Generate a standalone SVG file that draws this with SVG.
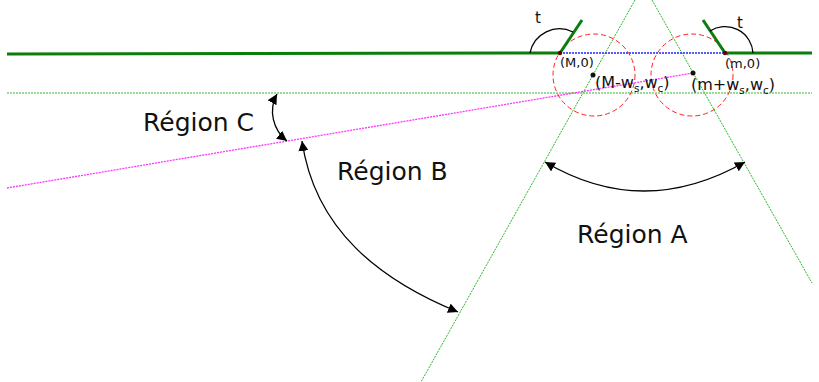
<svg xmlns="http://www.w3.org/2000/svg" width="819" height="382" viewBox="0 0 819 382">
<style>
.thick{stroke:#0a7d0a;stroke-width:3;fill:none}
.gdot{stroke:#2db92d;stroke-width:1;stroke-dasharray:2,1;fill:none}
.mag{stroke:#ff33ff;stroke-width:1.3;stroke-dasharray:2,1;fill:none}
.blue{stroke:#2222ff;stroke-width:1.5;stroke-dasharray:2,1;fill:none}
.circ{stroke:#ff2020;stroke-width:1;stroke-dasharray:5,3;fill:none}
.arc{stroke:#000;stroke-width:1.3;fill:none}
.arr{stroke:#000;stroke-width:1.3;fill:none;marker-start:url(#ah);marker-end:url(#ah)}
.lbl{font-family:"DejaVu Sans",sans-serif;font-size:25px;fill:#111}
.sm{font-family:"DejaVu Sans",sans-serif;font-size:13px;fill:#111}
.md{font-family:"DejaVu Sans",sans-serif;font-size:16px;fill:#111}
.tt{font-family:"DejaVu Sans",sans-serif;font-size:15px;fill:#111}
</style>
<defs>
<marker id="ah" viewBox="0 0 10 10" refX="10" refY="5" markerWidth="10" markerHeight="10" markerUnits="userSpaceOnUse" orient="auto-start-reverse">
<path d="M0,0 L10,5 L0,10 z" fill="#000"/>
</marker>
</defs>
<rect width="819" height="382" fill="#fff"/>
<g id="connectors">
<line class="gdot" x1="7" y1="93" x2="812" y2="93"/>
<line class="gdot" x1="635" y1="0" x2="421" y2="382"/>
<line class="gdot" x1="652" y1="0" x2="812" y2="283"/>
<line class="mag" x1="7" y1="188" x2="693" y2="73"/>
<line class="blue" x1="560" y1="53" x2="725" y2="53"/>
<circle class="circ" cx="594" cy="75" r="41"/>
<circle class="circ" cx="692" cy="75" r="41"/>
<line class="thick" x1="7" y1="54" x2="560" y2="53"/>
<line class="thick" x1="725" y1="53" x2="812" y2="53"/>
<line class="thick" x1="560" y1="53" x2="582" y2="20"/>
<line class="thick" x1="725" y1="53" x2="703" y2="20"/>
<path class="arc" d="M530,53 A30,30 0 0 1 573,32"/>
<path class="arc" d="M710,31 A28,28 0 0 1 753,53"/>
<path class="arr" d="M545,162 Q643,220 745,162"/>
<path class="arr" d="M302,141 C315,230 380,280 458,312"/>
<path class="arr" d="M277,94 C268,110 273,130 287,141"/>
</g>
<g id="points">
<circle cx="560" cy="53" r="2.2" fill="#600"/>
<circle cx="725" cy="53" r="2.2" fill="#600"/>
<circle cx="593" cy="75" r="2.5" fill="#111"/>
<circle cx="693" cy="73" r="2.5" fill="#111"/>
</g>
<g id="labels">
<text class="tt" x="535" y="23">t</text>
<text class="tt" x="737" y="28">t</text>
<text class="sm" x="560" y="67">(M,0)</text>
<text class="sm" x="725" y="68">(m,0)</text>
<text class="md" x="595" y="88">(M-w<tspan font-size="10.5" dy="4">s</tspan><tspan dy="-4">,w</tspan><tspan font-size="10.5" dy="4">c</tspan><tspan dy="-4">)</tspan></text>
<text class="md" x="691" y="90">(m+w<tspan font-size="10.5" dy="4">s</tspan><tspan dy="-4">,w</tspan><tspan font-size="10.5" dy="4">c</tspan><tspan dy="-4">)</tspan></text>
</g>
<g id="regionC"><text class="lbl" x="143" y="131">Région C</text></g>
<g id="regionB"><text class="lbl" x="337" y="180">Région B</text></g>
<g id="regionA"><text class="lbl" x="577" y="243">Région A</text></g>
</svg>
